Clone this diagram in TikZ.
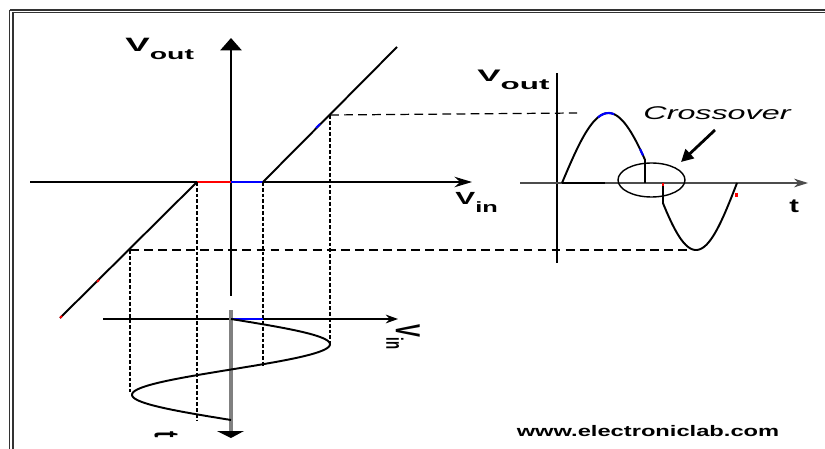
\documentclass[tikz,border=0pt]{standalone}
\usepackage{fontspec}
\setmainfont{Liberation Sans}
\usetikzlibrary{arrows.meta}
\newcommand\hstr[2]{\scalebox{#1}[1]{#2}}
\newcommand\vstr[2]{\scalebox{1}[#1]{#2}}
\begin{document}
\begin{tikzpicture}[x=0.02cm,y=-0.02cm,
  frameline/.style={line width=0.7pt, black!80},
  axisline/.style={line width=1.1pt},
  thinaxis/.style={line width=0.75pt},
  tline/.style={line width=1.1pt},
  vdash/.style={line width=1.4pt, dash pattern=on 2.2pt off 1.1pt},
  hdash/.style={line width=0.7pt, dash pattern=on 5pt off 3pt},
  curve/.style={line width=1.1pt},
  lbl/.style={inner sep=0pt, font=\bfseries\fontsize{11}{12}\selectfont},
  ]
\useasboundingbox (0,0) rectangle (825,449);
% frame
\draw[frameline] (9.5,10) -- (9.5,449) (13,12.5) -- (13,449);
\draw[frameline] (9.5,10) -- (825,10) (13,12.5) -- (825,12.5);

% ---------- transfer characteristic ----------
\coordinate (O) at (231,182);
\coordinate (dzL) at (197,182);
\coordinate (dzR) at (263,182);
\coordinate (topR) at (397,47);
\coordinate (botL) at (60,318);
\coordinate (pk) at (330,115);
\coordinate (tr) at (130,250);
\draw[thinaxis, -{Stealth[length=10pt,width=6pt]}] (30,182) coordinate (xaL) -- (472,182) coordinate (xaR);
\draw[axisline, -{Triangle[length=7pt,width=12pt]}] (231,296) coordinate (yaB) -- (231,38) coordinate (yaT);
\draw[line width=1pt, red] (dzL) -- (O);
\draw[line width=1pt, blue] (O) -- (dzR);
\draw[tline] (dzR) -- (topR);
\draw[tline] (dzL) -- (botL);
\draw[line width=1.2pt, blue] (316,128) -- (320,124);
\draw[line width=1.2pt, red] (97,282) -- (99,280);
\draw[line width=1.2pt, red] (60,318) -- (62,316);

% vertical projection lines
\draw[vdash] (tr) -- (130,392);
\draw[vdash] (dzL) -- (197,420);
\draw[vdash] (dzR) -- (263,367);
\draw[vdash] (pk) -- (330,345);

% horizontal projection lines
\draw[hdash] (pk) -- (577,113);
\draw[hdash] (tr) -- (688,250);

% ---------- input sine (below) ----------
\coordinate (iO) at (231,319);
\draw[thinaxis, -{Stealth[length=7pt,width=5pt]}] (103,319) coordinate (iaL) -- (398,319) coordinate (iaR);
\draw[line width=2pt, black!50] (231,310) coordinate (gT) -- (231,431) coordinate (gB);
\fill (217,431) -- (244,431) -- (231,438) -- cycle;
\draw[line width=1pt, blue] (iO) -- (263,319);
\draw[curve] plot[domain=0:360, samples=90, variable=\t] ({231+99*sin(\t)}, {319+0.280556*\t});

% ---------- output waveform ----------
\draw[line width=1.2pt] (557,263) coordinate (oaB) -- (557,73) coordinate (oaT);
\draw[line width=0.6pt, black!70, -{Stealth[length=8pt,width=5pt]}] (520,183) coordinate (taL) -- (808,183) coordinate (taR);
\draw[line width=1.5pt] (562,183) -- (605,183);
\draw[curve] plot[domain=562:645, samples=60, variable=\u] (\u, {183-70*sin(1.935484*(\u-562))}) -- (645,183);
\draw[curve] (663,183) -- plot[domain=663:737, samples=60, variable=\u] (\u, {183+67*sin(2.195122*(\u-655))});
\draw[line width=1.2pt, blue] plot[domain=598:614, samples=8, variable=\u] (\u, {183-70*sin(1.935484*(\u-562))});
\draw[line width=1.2pt, blue] plot[domain=640:643, samples=4, variable=\u] (\u, {183-70*sin(1.935484*(\u-562))});
\draw[line width=1.2pt, red] (663,183) -- (663,186);
\draw[line width=1.2pt, red] (736.5,193) -- (736.5,197);

% crossover ellipse and arrow
\draw[line width=0.8pt] (651.5,180) ellipse [x radius=0.67cm, y radius=0.34cm];
\coordinate (arS) at (715,130);
\coordinate (arE) at (681,162);
\draw[line width=1.6pt, -{Triangle[length=7pt,width=7pt]}] (arS) -- (arE);

% ---------- labels ----------
\node[lbl, anchor=base west] (vout1) at (125,52) {\hstr{1.9}{V\raisebox{-4.5pt}{\fontsize{8.5}{9}\selectfont out}}};
\node[lbl, anchor=base west] (vout2) at (477,82) {\hstr{2.1}{\fontsize{9.5}{10}\selectfont V\raisebox{-4.5pt}{\fontsize{8.5}{9}\selectfont out}}};
\node[lbl, anchor=base west] (vin1) at (455,205) {\hstr{1.7}{\fontsize{10}{11}\selectfont V\raisebox{-4.5pt}{\fontsize{8.5}{9}\selectfont in}}};
\node[lbl, anchor=base west] (tlab) at (789,213) {\hstr{1.5}{t}};
\node[inner sep=0pt, rotate=-90] (vin2) at (403,337) {\vstr{1.8}{\bfseries\fontsize{11}{12}\selectfont V\raisebox{-3pt}{\fontsize{7.5}{8}\selectfont in}}};
\node[inner sep=0pt, rotate=-90] (tlab2) at (166,435) {\vstr{1.8}{\bfseries\fontsize{11}{12}\selectfont t}};
\node[inner sep=0pt] (cross) at (717,113) {\hstr{1.75}{\itshape\fontsize{10.5}{12}\selectfont Crossover}};
\node[inner sep=0pt] (www) at (648,431) {\hstr{1.55}{\bfseries\fontsize{8.7}{10}\selectfont www.electroniclab.com}};
\end{tikzpicture}
\end{document}
